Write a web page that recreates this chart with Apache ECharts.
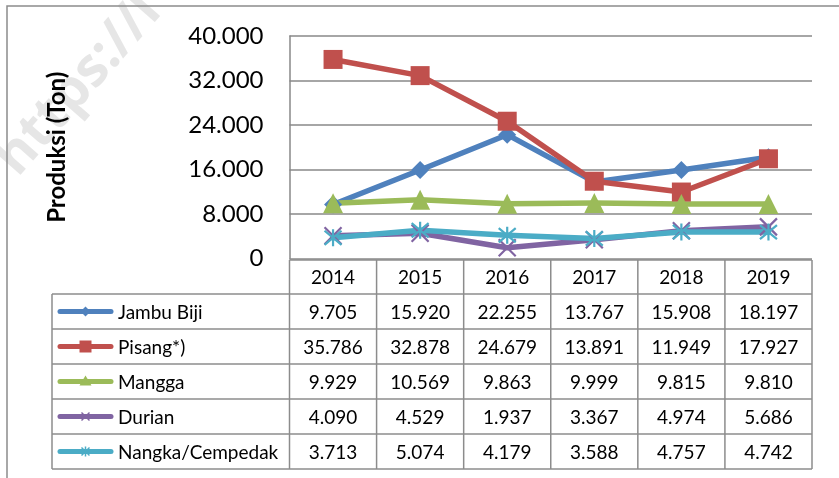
<!DOCTYPE html>
<html>
<head>
<meta charset="utf-8">
<script src="https://cdn.jsdelivr.net/npm/echarts@6/dist/echarts.min.js"></script>
<style>
html, body { margin: 0; padding: 0; background: #fff; }
#graph { width: 839px; height: 478px; }
</style>
</head>
<body>
<div id="graph"></div>
<script>
// data
var years = ['2014', '2015', '2016', '2017', '2018', '2019'];
var jambuBiji = [9705, 15920, 22255, 13767, 15908, 18197];
var pisang = [35786, 32878, 24679, 13891, 11949, 17927];
var mangga = [9929, 10569, 9863, 9999, 9815, 9810];
var durian = [4090, 4529, 1937, 3367, 4974, 5686];
var nangka = [3713, 5074, 4179, 3588, 4757, 4742];
var seriesNames = ['Jambu Biji', 'Pisang*)', 'Mangga', 'Durian', 'Nangka/Cempedak'];
var seriesData = [jambuBiji, pisang, mangga, durian, nangka];

var colors = ['#4F81BD', '#C0504D', '#9BBB59', '#8064A2', '#4BACC6'];
var xMark = 'path://M0,0L10,10M10,0L0,10';
var starMark = 'path://M0,0L10,10M10,0L0,10M5,-1L5,11';
var symbols = ['diamond', 'rect', 'triangle', xMark, starMark];
var symbolSizes = [18, 19, 20, 17, 17];
var fontName = 'Lato';

function fmt(v) {
    return String(v).replace(/\B(?=(\d{3})+(?!\d))/g, '.');
}

var myChart = echarts.init(document.getElementById('graph'));

var series = [];
for (var i = 0; i < seriesData.length; i++) {
    var stroke = (i >= 3);
    series.push({
        name: seriesNames[i],
        type: 'line',
        data: seriesData[i],
        symbol: symbols[i],
        symbolSize: symbolSizes[i],
        showAllSymbol: true,
        animation: false,
        lineStyle: { color: colors[i], width: 5.5, join: 'round', cap: 'round' },
        itemStyle: {
            color: colors[i],
            borderColor: colors[i],
            borderWidth: stroke ? 2.2 : 0
        }
    });
}

var option = {
    animation: false,
    textStyle: { fontFamily: fontName },
    grid: { left: 289.5, top: 36, right: 27, bottom: 219.5 },
    xAxis: {
        type: 'category',
        data: years,
        boundaryGap: true,
        axisLine: { show: false },
        axisTick: { show: false },
        axisLabel: { show: false },
        splitLine: { show: false }
    },
    yAxis: {
        type: 'value',
        min: 0,
        max: 40000,
        interval: 8000,
        name: 'Produksi (Ton)',
        nameLocation: 'middle',
        nameRotate: 90,
        nameGap: 220,
        nameTextStyle: { fontSize: 24, fontWeight: 'bold', color: '#000', fontFamily: fontName },
        axisLine: { show: true, lineStyle: { color: '#888', width: 1.5 } },
        axisTick: { show: false },
        splitLine: { lineStyle: { color: '#888', width: 1.5 } },
        axisLabel: {
            fontSize: 24,
            color: '#000',
            margin: 26,
            fontFamily: fontName,
            formatter: function (v) { return fmt(v); }
        }
    },
    series: series
};
myChart.setOption(option);

// data table under the plot, placed from the axis positions
var colW = myChart.convertToPixel({ xAxisIndex: 0 }, 1) - myChart.convertToPixel({ xAxisIndex: 0 }, 0);
var xs = years.map(function (y, k) { return myChart.convertToPixel({ xAxisIndex: 0 }, k); });
var y0 = myChart.convertToPixel({ yAxisIndex: 0 }, 0);
var tableLeft = xs[0] - colW / 2;
var tableRight = xs[xs.length - 1] + colW / 2;
var headTop = y0 + 1.5;
var rowH = 35;
var firstRow = headTop + 34;
var legendLeft = 52;
var lineCol = '#8c8c8c';

var g = [];
// watermark
g.push({
    type: 'text', x: -14, y: 150, rotation: 0.85, z: -10, silent: true,
    style: { text: 'https://l', fontSize: 54, fontWeight: 'bold', fill: '#e6e6e6', fontFamily: 'Open Sans' }
});
// outer frame
g.push({
    type: 'rect', shape: { x: 7, y: 6, width: 900, height: 600 },
    style: { fill: 'none', stroke: lineCol, lineWidth: 1.5 }
});
function hline(x1, x2, y) {
    g.push({ type: 'line', shape: { x1: x1, y1: y, x2: x2, y2: y }, style: { stroke: lineCol, lineWidth: 1.5 } });
}
function vline(x, y1, y2) {
    g.push({ type: 'line', shape: { x1: x, y1: y1, x2: x, y2: y2 }, style: { stroke: lineCol, lineWidth: 1.5 } });
}
hline(tableLeft, tableRight, headTop);
for (var r = 0; r <= seriesNames.length; r++) {
    hline(legendLeft, tableRight, firstRow + r * rowH);
}
var tableBottom = firstRow + seriesNames.length * rowH;
vline(legendLeft, firstRow, tableBottom);
for (var c = 0; c <= years.length; c++) {
    vline(tableLeft + c * colW, headTop, tableBottom);
}
// header years
for (var c = 0; c < years.length; c++) {
    g.push({
        type: 'text', x: xs[c], y: (headTop + firstRow) / 2 + 1,
        style: { text: years[c], fontSize: 19, fill: '#000', align: 'center', verticalAlign: 'middle', fontFamily: fontName }
    });
}
// rows
for (var r = 0; r < seriesNames.length; r++) {
    var cy = firstRow + r * rowH + rowH / 2 + 1;
    var ky = cy - 1;
    var kx = 85.5;
    // legend key
    g.push({ type: 'line', shape: { x1: 60, y1: ky, x2: 111, y2: ky }, style: { stroke: colors[r], lineWidth: 5, lineCap: 'round' } });
    if (r === 0) {
        g.push({ type: 'polygon', shape: { points: [[kx, ky - 5], [kx + 5, ky], [kx, ky + 5], [kx - 5, ky]] }, style: { fill: colors[r] } });
    } else if (r === 1) {
        g.push({ type: 'rect', shape: { x: kx - 6, y: ky - 6, width: 12, height: 12 }, style: { fill: colors[r] } });
    } else if (r === 2) {
        g.push({ type: 'polygon', shape: { points: [[kx, ky - 6], [kx + 6, ky + 4], [kx - 6, ky + 4]] }, style: { fill: colors[r] } });
    } else {
        g.push({ type: 'line', shape: { x1: kx - 4, y1: ky - 4, x2: kx + 4, y2: ky + 4 }, style: { stroke: colors[r], lineWidth: 1.5 } });
        g.push({ type: 'line', shape: { x1: kx + 4, y1: ky - 4, x2: kx - 4, y2: ky + 4 }, style: { stroke: colors[r], lineWidth: 1.5 } });
        if (r === 4) {
            g.push({ type: 'line', shape: { x1: kx, y1: ky - 5, x2: kx, y2: ky + 5 }, style: { stroke: colors[r], lineWidth: 1.5 } });
        }
    }
    g.push({
        type: 'text', x: 118, y: cy,
        style: { text: seriesNames[r], fontSize: 19, fill: '#000', align: 'left', verticalAlign: 'middle', fontFamily: fontName }
    });
    for (var c = 0; c < years.length; c++) {
        g.push({
            type: 'text', x: xs[c], y: cy,
            style: { text: fmt(seriesData[r][c]), fontSize: 19, fill: '#000', align: 'center', verticalAlign: 'middle', fontFamily: fontName }
        });
    }
}
myChart.setOption({ graphic: g });
</script>
</body>
</html>
